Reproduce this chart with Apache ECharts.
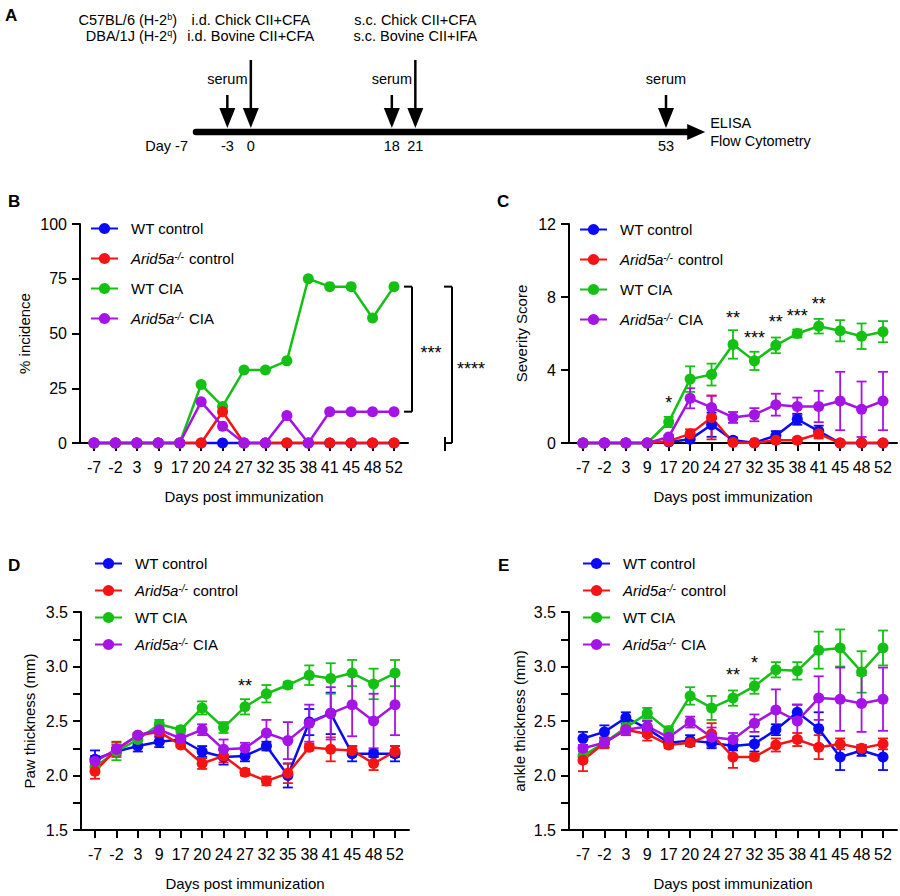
<!DOCTYPE html>
<html>
<head>
<meta charset="utf-8">
<script src="https://cdn.jsdelivr.net/npm/echarts@6/dist/echarts.min.js"></script>
<style>
  html, body { margin: 0; padding: 0; background: #fff; }
  #main { width: 900px; height: 896px; }
</style>
</head>
<body>
<div id="main"></div>
<script>
// x categories (days post immunization)
const days = ["-7", "-2", "3", "9", "17", "20", "24", "27", "32", "35", "38", "41", "45", "48", "52"];
const names = ["WT control", "Arid5a-/- control", "WT CIA", "Arid5a-/- CIA"];

// B: % incidence
const wtCtrlB = [0, 0, 0, 0, 0, 0, 0, 0, 0, 0, 0, 0, 0, 0, 0];
const koCtrlB = [0, 0, 0, 0, 0, 0, 14.3, 0, 0, 0, 0, 0, 0, 0, 0];
const wtCiaB = [0, 0, 0, 0, 0, 26.7, 16.7, 33.3, 33.3, 37.5, 75, 71.4, 71.4, 57.1, 71.4];
const koCiaB = [0, 0, 0, 0, 0, 18.8, 7.7, 0, 0, 12.5, 0, 14.3, 14.3, 14.3, 14.3];
const bracketLoB = [14.3, 0];
const bracketHiB = [71.4, 71.4];
const bracketTxtB = ["***", "****"];

// C: severity score (mean, sem)
const wtCtrlC = [0, 0, 0, 0, 0.05, 0.2, 1.0, 0.15, 0.02, 0.4, 1.3, 0.65, 0, 0, 0];
const wtCtrlCe = [0, 0, 0, 0, 0.05, 0.15, 0.66, 0.15, 0.02, 0.25, 0.3, 0.3, 0, 0, 0];
const koCtrlC = [0, 0, 0, 0, 0.1, 0.5, 1.4, 0.03, 0, 0.15, 0.15, 0.5, 0, 0, 0];
const koCtrlCe = [0, 0, 0, 0, 0.1, 0.25, 1.2, 0.03, 0, 0.1, 0.1, 0.25, 0, 0, 0];
const wtCiaC = [0, 0, 0, 0, 1.15, 3.5, 3.75, 5.4, 4.5, 5.35, 6.0, 6.4, 6.15, 5.85, 6.1];
const wtCiaCe = [0, 0, 0, 0, 0.28, 0.7, 0.6, 0.78, 0.5, 0.43, 0.22, 0.4, 0.58, 0.7, 0.58];
const koCiaC = [0, 0, 0, 0, 0.33, 2.45, 1.95, 1.4, 1.55, 2.1, 2.0, 2.0, 2.3, 1.85, 2.3];
const koCiaCe = [0, 0, 0, 0, 0.1, 0.55, 0.64, 0.3, 0.36, 0.6, 0.49, 0.86, 1.6, 1.52, 1.6];
const starIdxC = [4, 7, 8, 9, 10, 11];
const starYC = [2.41, 7.07, 5.97, 6.85, 7.18, 7.84];
const starTxtC = ["*", "**", "***", "**", "***", "**"];

// D: paw thickness (mm)
const wtCtrlD = [2.15, 2.22, 2.27, 2.31, 2.33, 2.22, 2.17, 2.18, 2.27, 2.00, 2.49, 2.57, 2.20, 2.20, 2.20];
const wtCtrlDe = [0.08, 0.03, 0.05, 0.05, 0.03, 0.05, 0.07, 0.05, 0.04, 0.11, 0.12, 0.19, 0.07, 0.03, 0.07];
const koCtrlD = [2.04, 2.24, 2.37, 2.40, 2.28, 2.11, 2.18, 2.03, 1.95, 2.02, 2.26, 2.24, 2.23, 2.11, 2.22];
const koCtrlDe = [0.07, 0.07, 0.02, 0.05, 0.02, 0.05, 0.06, 0.03, 0.04, 0.09, 0.03, 0.11, 0.04, 0.06, 0.05];
const wtCiaD = [2.08, 2.22, 2.33, 2.47, 2.42, 2.62, 2.44, 2.63, 2.75, 2.83, 2.92, 2.89, 2.94, 2.84, 2.94];
const wtCiaDe = [0.06, 0.08, 0.05, 0.04, 0.03, 0.06, 0.05, 0.07, 0.08, 0.03, 0.09, 0.14, 0.12, 0.14, 0.12];
const koCiaD = [2.13, 2.24, 2.37, 2.42, 2.34, 2.42, 2.24, 2.25, 2.39, 2.32, 2.48, 2.57, 2.65, 2.50, 2.65];
const koCiaDe = [0.05, 0.04, 0.02, 0.04, 0.03, 0.05, 0.09, 0.05, 0.12, 0.17, 0.17, 0.24, 0.29, 0.25, 0.28];
const starIdxD = [7];
const starYD = [2.86];
const starTxtD = ["**"];

// E: ankle thickness (mm)
const wtCtrlE = [2.34, 2.40, 2.53, 2.43, 2.30, 2.32, 2.30, 2.27, 2.29, 2.42, 2.58, 2.43, 2.17, 2.23, 2.17];
const wtCtrlEe = [0.06, 0.06, 0.05, 0.07, 0.03, 0.05, 0.05, 0.04, 0.07, 0.05, 0.07, 0.15, 0.12, 0.05, 0.12];
const koCtrlE = [2.14, 2.30, 2.42, 2.38, 2.28, 2.30, 2.38, 2.17, 2.17, 2.28, 2.33, 2.26, 2.29, 2.25, 2.29];
const koCtrlEe = [0.10, 0.05, 0.05, 0.06, 0.03, 0.03, 0.10, 0.10, 0.03, 0.06, 0.06, 0.11, 0.05, 0.03, 0.05];
const wtCiaE = [2.18, 2.30, 2.44, 2.57, 2.41, 2.73, 2.62, 2.71, 2.82, 2.97, 2.96, 3.15, 3.17, 2.95, 3.17];
const wtCiaEe = [0.06, 0.04, 0.05, 0.05, 0.04, 0.08, 0.11, 0.07, 0.07, 0.07, 0.08, 0.17, 0.17, 0.19, 0.16];
const koCiaE = [2.25, 2.30, 2.42, 2.45, 2.35, 2.49, 2.35, 2.33, 2.48, 2.60, 2.50, 2.71, 2.70, 2.66, 2.70];
const koCiaEe = [0.03, 0.04, 0.05, 0.05, 0.04, 0.05, 0.09, 0.06, 0.08, 0.19, 0.15, 0.20, 0.29, 0.26, 0.29];
const starIdxE = [7, 8];
const starYE = [2.96, 3.07];
const starTxtE = ["**", "*"];

// A: timeline
const timelineStart = -7;
const timelineEnd = 58;
const serumDays = [-3, 18, 53];
const immunDays = [0, 21];
const immunText = [["i.d. Chick CII+CFA", "i.d. Bovine CII+CFA"], ["s.c. Chick CII+CFA", "s.c. Bovine CII+IFA"]];
const dayLabels = ["-3", "0", "18", "21", "53"];
const dayLabelDays = [-3, 0, 18, 21, 53];

const FONT = "'Liberation Sans', Arial, Helvetica, sans-serif";
const colors = ["#0a0af5", "#f51414", "#14c014", "#a514e6"];
const idx = days.map((d, i) => i);

function xAxisFor(gi) {
  return {
    gridIndex: gi, type: "value", min: -0.653, max: 14.653,
    axisLine: { show: true, onZero: false, lineStyle: { color: "#000", width: 2 } },
    axisTick: { show: true, customValues: idx, length: 8, lineStyle: { color: "#000", width: 2 } },
    axisLabel: { customValues: idx, formatter: v => days[v], fontSize: 16, color: "#000", margin: 16, fontFamily: FONT },
    splitLine: { show: false },
    name: "Days post immunization", nameLocation: "middle", nameGap: 46,
    nameTextStyle: { fontSize: 15, color: "#000", fontFamily: FONT }
  };
}

function yAxisFor(gi, min, max, interval, name, gap, fmt) {
  return {
    gridIndex: gi, type: "value", min: min, max: max, interval: interval,
    axisLine: { show: true, onZero: false, lineStyle: { color: "#000", width: 2 } },
    axisTick: { show: true, length: 8, lineStyle: { color: "#000", width: 2 } },
    axisLabel: { fontSize: 16, color: "#000", margin: 13, fontFamily: FONT, formatter: fmt },
    splitLine: { show: false },
    name: name, nameLocation: "middle", nameGap: gap,
    nameTextStyle: { fontSize: 15, color: "#000", fontFamily: FONT }
  };
}

const halfFmt = v => (Math.round(v * 100) % 50 === 0 ? v.toFixed(1) : "");

function lineSeries(name, gi, vals, color) {
  return {
    type: "line", name: name, xAxisIndex: gi, yAxisIndex: gi,
    data: vals.map((v, i) => [i, v]),
    symbol: "circle", symbolSize: 11, showSymbol: true,
    lineStyle: { width: 2.5, color: color }, itemStyle: { color: color },
    emphasis: { disabled: true }, clip: false
  };
}

function errSeries(gi, vals, errs, color) {
  return {
    type: "custom", xAxisIndex: gi, yAxisIndex: gi, clip: false,
    data: vals.map((v, i) => [i, v - errs[i], v + errs[i], errs[i]]),
    renderItem: (params, api) => {
      if (!(api.value(3) > 0)) return null;
      const lo = api.coord([api.value(0), api.value(1)]);
      const hi = api.coord([api.value(0), api.value(2)]);
      const w = 5;
      const st = { stroke: color, lineWidth: 1.8 };
      return {
        type: "group", children: [
          { type: "line", shape: { x1: lo[0], y1: lo[1], x2: hi[0], y2: hi[1] }, style: st },
          { type: "line", shape: { x1: lo[0] - w, y1: lo[1], x2: lo[0] + w, y2: lo[1] }, style: st },
          { type: "line", shape: { x1: hi[0] - w, y1: hi[1], x2: hi[0] + w, y2: hi[1] }, style: st }
        ]
      };
    }
  };
}

function starSeries(gi, ids, ys, txt) {
  return {
    type: "custom", xAxisIndex: gi, yAxisIndex: gi, clip: false, z: 5,
    data: ids.map((i, k) => [i, ys[k], k]),
    renderItem: (params, api) => {
      const p = api.coord([api.value(0), api.value(1)]);
      return {
        type: "text", x: p[0], y: p[1] + 4,
        style: { text: txt[api.value(2)], fontSize: 18, fontFamily: FONT, fill: "#000", align: "center", verticalAlign: "middle" }
      };
    }
  };
}

function panelSeries(gi, sets) {
  // draw order: WT control, WT CIA, Arid5a control, Arid5a CIA
  const out = [];
  [0, 2, 1, 3].forEach(k => {
    if (sets[k][1]) out.push(errSeries(gi, sets[k][0], sets[k][1], colors[k]));
    out.push(lineSeries(names[k], gi, sets[k][0], colors[k]));
  });
  return out;
}

const legendRich = {
  n: { fontSize: 15, fontFamily: FONT, color: "#000", lineHeight: 14 },
  i: { fontSize: 15, fontFamily: FONT, color: "#000", fontStyle: "italic", lineHeight: 14 },
  s: { fontSize: 10, fontFamily: FONT, color: "#000", fontStyle: "italic", lineHeight: 10, verticalAlign: "top", padding: [0, 1, 4, 0] }
};
function legendFor(left, top, gap) {
  return {
    orient: "vertical", left: left, top: top, padding: 0, itemWidth: 27, itemHeight: 14, itemGap: gap,
    selectedMode: false, data: names,
    formatter: n => (n.indexOf("Arid5a") === 0 ? "{i|Arid5a}{s|-/-}{n|" + n.slice(9) + "}" : "{n|" + n + "}"),
    textStyle: { fontSize: 15, fontFamily: FONT, color: "#000", padding: [0, 0, 0, 8], rich: legendRich }
  };
}

// panel A drawing, positioned along the day axis of grid 4
function timelineItem(params, api) {
  const base = api.coord([0, 0])[1];
  const x = d => api.coord([d, 0])[0];
  const kids = [];
  const txt = (s, px, py, align, rich) => kids.push({
    type: "text", x: px, y: py,
    style: { text: s, fontSize: 14.5, fontFamily: FONT, fill: "#000", align: align, verticalAlign: "middle", rich: rich }
  });
  const xEnd = x(timelineEnd);
  kids.push({ type: "line", shape: { x1: x(timelineStart), y1: base, x2: xEnd - 16, y2: base }, style: { stroke: "#000", lineWidth: 6.5, lineCap: "round" } });
  kids.push({ type: "polygon", shape: { points: [[xEnd - 18, base - 8], [xEnd, base], [xEnd - 18, base + 8]] }, style: { fill: "#000" } });
  const arrow = (d, top) => {
    const ax = x(d), tip = base - 4;
    kids.push({ type: "line", shape: { x1: ax, y1: top, x2: ax, y2: tip - 18 }, style: { stroke: "#000", lineWidth: 2.5 } });
    kids.push({ type: "polygon", shape: { points: [[ax - 8, tip - 20], [ax + 8, tip - 20], [ax, tip]] }, style: { fill: "#000" } });
  };
  immunDays.forEach((d, k) => {
    arrow(d, base - 72);
    txt(immunText[k][0], x(d), base - 112, "center");
    txt(immunText[k][1], x(d), base - 96, "center");
  });
  serumDays.forEach(d => {
    arrow(d, base - 37);
    txt("serum", x(d), base - 53, "center");
  });
  dayLabelDays.forEach((d, k) => txt(dayLabels[k], x(d), base + 14, "center"));
  txt("Day -7", x(timelineStart) - 8, base + 14, "right");
  txt("ELISA", xEnd + 5, base - 9, "left");
  txt("Flow Cytometry", xEnd + 5, base + 9, "left");
  const supRich = { b: { fontSize: 9, fontFamily: FONT, verticalAlign: "top", lineHeight: 9, padding: [0, 0, 4, 0] }, t: { fontSize: 14.5, fontFamily: FONT, lineHeight: 15 } };
  txt("{t|C57BL/6 (H-2}{b|b}{t|)}", x(timelineStart) - 19, base - 112, "right", supRich);
  txt("{t|DBA/1J (H-2}{b|q}{t|)}", x(timelineStart) - 19, base - 96, "right", supRich);
  return { type: "group", children: kids };
}

// B brackets to the right of the last point
const bracketDx = [18, 58];
function bracketItem(params, api) {
  const k = params.dataIndex;
  const bx = api.coord([14, 0])[0] + bracketDx[k];
  const yl = api.coord([14, api.value(0)])[1];
  const yh = api.coord([14, api.value(1)])[1];
  const st = { stroke: "#000", lineWidth: 2 };
  const kids = [
    { type: "line", shape: { x1: bx, y1: yh, x2: bx, y2: yl }, style: st },
    { type: "line", shape: { x1: bx - 8, y1: yh, x2: bx, y2: yh }, style: st },
    { type: "line", shape: { x1: bx - 8, y1: yl, x2: bx, y2: yl }, style: st },
    { type: "text", x: bx + 19, y: (yl + yh) / 2 + 4, style: { text: bracketTxtB[k], fontSize: 18, fontFamily: FONT, fill: "#000", align: "center", verticalAlign: "middle" } }
  ];
  if (k === 1) kids.push({ type: "line", shape: { x1: bx - 7, y1: yl - 6, x2: bx - 7, y2: yl + 8 }, style: st });
  return { type: "group", children: kids };
}

const chart = echarts.init(document.getElementById("main"), null, { renderer: "svg" });
const option = {
  backgroundColor: "#fff",
  animation: false,
  textStyle: { fontFamily: FONT },
  grid: [
    { left: 80, top: 224, width: 328, height: 219 },
    { left: 569, top: 224, width: 328, height: 219 },
    { left: 81, top: 612, width: 328, height: 218 },
    { left: 569, top: 612, width: 328, height: 218 },
    { left: 196, top: 22, width: 470, height: 110 }
  ],
  xAxis: [
    xAxisFor(0), xAxisFor(1), xAxisFor(2), xAxisFor(3),
    { gridIndex: 4, type: "value", min: -7, max: 53, show: false }
  ],
  yAxis: [
    yAxisFor(0, 0, 100, 25, "% incidence", 48),
    yAxisFor(1, 0, 12, 4, "Severity Score", 40),
    yAxisFor(2, 1.5, 3.5, 0.25, "Paw thickness (mm)", 44, halfFmt),
    yAxisFor(3, 1.5, 3.5, 0.25, "ankle thickness (mm)", 42, halfFmt),
    { gridIndex: 4, type: "value", min: 0, max: 1, show: false }
  ],
  legend: [
    legendFor(90, 221, 15),
    legendFor(579, 222, 15),
    legendFor(94, 556, 12),
    legendFor(582, 556, 12)
  ],
  graphic: [
    { type: "text", left: 5, top: 7, style: { text: "A", fontSize: 17, fontWeight: "bold", fontFamily: FONT, fill: "#000" } },
    { type: "text", left: 8, top: 193, style: { text: "B", fontSize: 17, fontWeight: "bold", fontFamily: FONT, fill: "#000" } },
    { type: "text", left: 497, top: 193, style: { text: "C", fontSize: 17, fontWeight: "bold", fontFamily: FONT, fill: "#000" } },
    { type: "text", left: 8, top: 557, style: { text: "D", fontSize: 17, fontWeight: "bold", fontFamily: FONT, fill: "#000" } },
    { type: "text", left: 498, top: 557, style: { text: "E", fontSize: 17, fontWeight: "bold", fontFamily: FONT, fill: "#000" } }
  ],
  series: [].concat(
    [{ type: "custom", xAxisIndex: 4, yAxisIndex: 4, clip: false, data: [[0, 0]], renderItem: timelineItem }],
    panelSeries(0, [[wtCtrlB], [koCtrlB], [wtCiaB], [koCiaB]]),
    [{ type: "custom", xAxisIndex: 0, yAxisIndex: 0, clip: false, data: bracketLoB.map((v, k) => [v, bracketHiB[k]]), renderItem: bracketItem }],
    panelSeries(1, [[wtCtrlC, wtCtrlCe], [koCtrlC, koCtrlCe], [wtCiaC, wtCiaCe], [koCiaC, koCiaCe]]),
    [starSeries(1, starIdxC, starYC, starTxtC)],
    panelSeries(2, [[wtCtrlD, wtCtrlDe], [koCtrlD, koCtrlDe], [wtCiaD, wtCiaDe], [koCiaD, koCiaDe]]),
    [starSeries(2, starIdxD, starYD, starTxtD)],
    panelSeries(3, [[wtCtrlE, wtCtrlEe], [koCtrlE, koCtrlEe], [wtCiaE, wtCiaEe], [koCiaE, koCiaEe]]),
    [starSeries(3, starIdxE, starYE, starTxtE)]
  )
};
chart.setOption(option);
</script>
</body>
</html>
